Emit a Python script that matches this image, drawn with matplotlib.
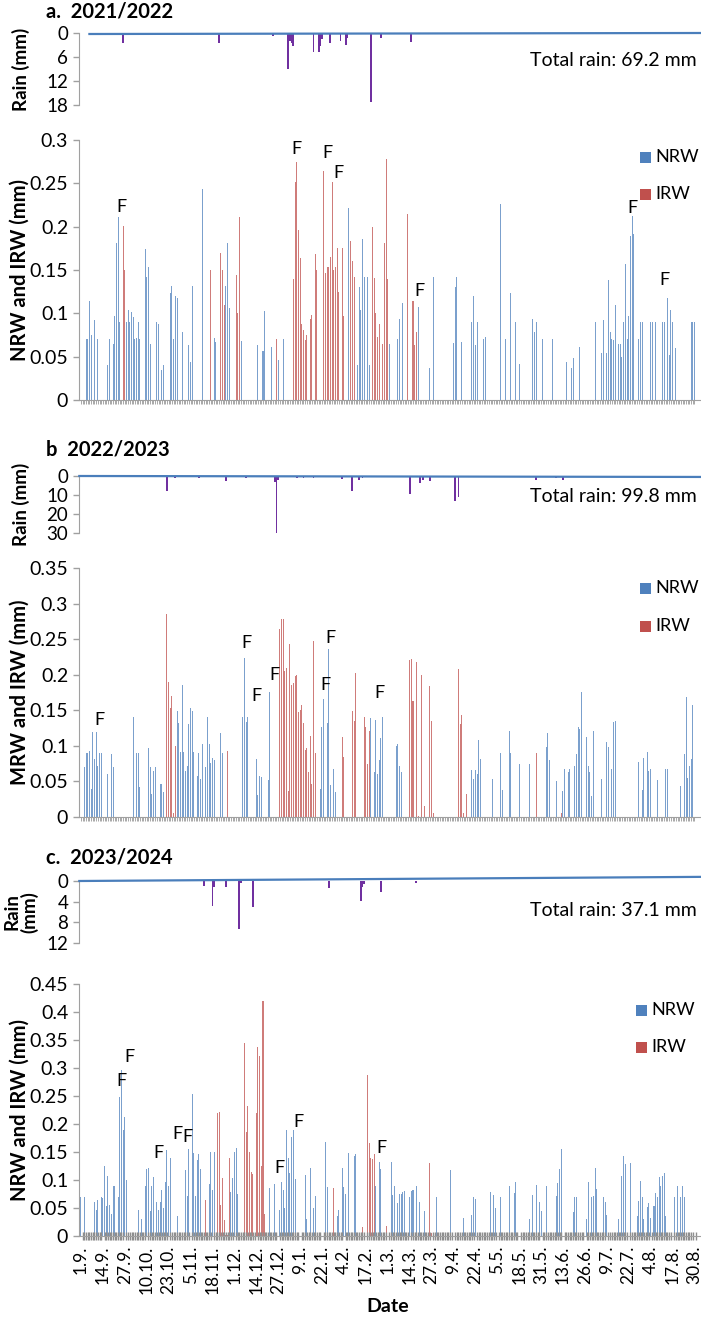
import numpy as np
import matplotlib
matplotlib.use("Agg")
import matplotlib.pyplot as plt
from matplotlib.patches import Rectangle

plt.rcParams["font.family"] = ["Lato", "DejaVu Sans"]

# ---------------- data (day index from 1 September) ----------------
# 2021/2022
nrw_days_a = [3, 4, 5, 6, 8, 10, 16, 17, 19, 20, 21, 22, 23, 27, 28, 29, 30, 31, 32, 33, 34, 35,
              38, 39, 40, 41, 45, 46, 48, 49, 53, 54, 55, 56, 57, 60, 64, 65, 66, 72, 79, 80, 86,
              87, 88, 95, 105, 108, 109, 113, 117, 120, 159, 164, 165, 166, 167, 168, 170, 171,
              183, 188, 189, 191, 200, 207, 209, 221, 222, 223, 226, 232, 233, 234, 235, 239,
              240, 249, 252, 255, 258, 260, 268, 269, 270, 274, 280, 288, 291, 292, 296, 305,
              309, 310, 312, 313, 314, 315, 316, 317, 319, 320, 321, 322, 323, 324, 325, 326,
              327, 328, 331, 332, 333, 338, 339, 341, 345, 346, 348, 349, 350, 351, 353, 362,
              363, 364]
nrw_vals_a = [0.07, 0.07, 0.114, 0.075, 0.092, 0.07, 0.04, 0.07, 0.065, 0.097, 0.181, 0.211, 0.09,
              0.09, 0.104, 0.09, 0.101, 0.096, 0.07, 0.071, 0.09, 0.07, 0.174, 0.142, 0.153,
              0.065, 0.09, 0.088, 0.035, 0.04, 0.124, 0.132, 0.07, 0.12, 0.118, 0.079, 0.064,
              0.044, 0.132, 0.244, 0.071, 0.067, 0.131, 0.181, 0.106, 0.068, 0.064, 0.056, 0.103,
              0.061, 0.046, 0.07, 0.222, 0.04, 0.13, 0.104, 0.186, 0.142, 0.142, 0.04, 0.065,
              0.07, 0.093, 0.112, 0.107, 0.037, 0.142, 0.066, 0.13, 0.142, 0.067, 0.09, 0.12,
              0.063, 0.09, 0.07, 0.073, 0.226, 0.07, 0.123, 0.09, 0.042, 0.093, 0.078, 0.09,
              0.07, 0.07, 0.044, 0.037, 0.049, 0.061, 0.09, 0.054, 0.092, 0.054, 0.139, 0.078,
              0.07, 0.069, 0.11, 0.065, 0.065, 0.05, 0.09, 0.157, 0.07, 0.097, 0.189, 0.212,
              0.192, 0.07, 0.09, 0.09, 0.09, 0.09, 0.09, 0.09, 0.09, 0.118, 0.052, 0.104, 0.09,
              0.06, 0.09, 0.09, 0.09]
irw_days_a = [25, 26, 77, 83, 84, 85, 92, 93, 94, 116, 126, 127, 128, 129, 130, 131, 132, 133,
              134, 136, 137, 139, 140, 144, 145, 146, 147, 148, 149, 150, 151, 152, 153, 155,
              156, 160, 161, 162, 173, 174, 175, 176, 177, 179, 180, 181, 182, 194, 197, 198, 199]
irw_vals_a = [0.201, 0.15, 0.15, 0.17, 0.15, 0.11, 0.144, 0.1, 0.211, 0.07, 0.14, 0.251, 0.275,
              0.196, 0.164, 0.088, 0.081, 0.069, 0.075, 0.093, 0.098, 0.168, 0.15, 0.264, 0.147,
              0.153, 0.154, 0.165, 0.251, 0.15, 0.154, 0.175, 0.125, 0.175, 0.097, 0.184, 0.16,
              0.142, 0.2, 0.141, 0.1, 0.073, 0.088, 0.065, 0.181, 0.278, 0.14, 0.215, 0.114,
              0.063, 0.079]
rain_days_a = [25, 43, 44, 82, 114, 123, 124, 125, 126, 138, 141, 142, 143, 148, 154, 157, 158,
               172, 178, 193, 196]
rain_vals_a = [2.5, 0.3, 0.3, 2.5, 0.7, 9.0, 2.0, 2.5, 3.3, 4.8, 4.8, 3.3, 1.5, 2.5, 2.0, 3.0,
               1.3, 17.2, 1.3, 0.3, 2.3]
f_days_a = [24, 128, 146, 153, 201, 327, 346]
f_vals_a = [0.223, 0.29, 0.285, 0.262, 0.126, 0.221, 0.138]

# 2022/2023
nrw_days_b = [2, 3, 4, 5, 6, 7, 8, 9, 10, 11, 12, 16, 18, 19, 31, 33, 34, 35, 40, 41, 42, 43, 44,
              47, 48, 49, 57, 58, 59, 60, 61, 62, 63, 64, 65, 66, 67, 69, 70, 71, 72, 74, 75, 76,
              77, 78, 79, 83, 84, 96, 97, 98, 99, 104, 105, 106, 107, 111, 112, 142, 143, 144,
              146, 147, 148, 150, 151, 172, 174, 175, 176, 177, 178, 179, 187, 188, 189, 190,
              232, 233, 234, 235, 236, 237, 244, 249, 250, 254, 255, 260, 266, 276, 277, 278,
              282, 286, 287, 289, 290, 293, 294, 295, 296, 297, 300, 301, 302, 303, 304, 309,
              312, 313, 315, 316, 317, 331, 333, 334, 336, 337, 338, 342, 347, 348, 356, 358,
              359, 360, 361, 362, 363]
nrw_vals_b = [0.07, 0.09, 0.09, 0.093, 0.04, 0.12, 0.082, 0.119, 0.072, 0.09, 0.09, 0.06, 0.088,
              0.07, 0.14, 0.09, 0.09, 0.042, 0.097, 0.07, 0.032, 0.064, 0.07, 0.046, 0.046, 0.035,
              0.149, 0.132, 0.092, 0.186, 0.092, 0.064, 0.071, 0.131, 0.153, 0.149, 0.092, 0.057,
              0.09, 0.053, 0.103, 0.07, 0.14, 0.103, 0.076, 0.083, 0.08, 0.118, 0.09, 0.14, 0.224,
              0.133, 0.14, 0.081, 0.031, 0.057, 0.056, 0.052, 0.176, 0.039, 0.126, 0.166, 0.132,
              0.236, 0.045, 0.067, 0.035, 0.139, 0.063, 0.137, 0.06, 0.08, 0.111, 0.14, 0.1,
              0.102, 0.072, 0.063, 0.066, 0.054, 0.066, 0.06, 0.108, 0.082, 0.053, 0.09, 0.038,
              0.121, 0.09, 0.075, 0.075, 0.099, 0.118, 0.08, 0.05, 0.037, 0.068, 0.063, 0.068,
              0.071, 0.089, 0.127, 0.123, 0.176, 0.112, 0.072, 0.063, 0.029, 0.121, 0.053, 0.105,
              0.098, 0.068, 0.133, 0.135, 0.077, 0.038, 0.083, 0.092, 0.064, 0.068, 0.052, 0.068,
              0.068, 0.043, 0.088, 0.169, 0.055, 0.072, 0.082, 0.158]
irw_days_b = [51, 52, 53, 54, 55, 56, 87, 118, 119, 120, 121, 122, 123, 124, 125, 126, 127, 128,
              129, 130, 131, 132, 133, 134, 135, 136, 137, 138, 139, 155, 156, 161, 162, 163,
              168, 169, 170, 171, 195, 196, 197, 199, 200, 202, 204, 207, 208, 209, 224, 225,
              226, 227, 229, 270, 285]
irw_vals_b = [0.286, 0.19, 0.153, 0.17, 0.006, 0.1, 0.093, 0.264, 0.279, 0.279, 0.205, 0.21,
              0.037, 0.243, 0.185, 0.189, 0.198, 0.2, 0.147, 0.15, 0.157, 0.132, 0.094, 0.097,
              0.063, 0.114, 0.047, 0.248, 0.09, 0.113, 0.085, 0.149, 0.135, 0.203, 0.14, 0.127,
              0.075, 0.121, 0.22, 0.222, 0.163, 0.218, 0.002, 0.199, 0.016, 0.184, 0.135, 0.005,
              0.208, 0.131, 0.143, 0.005, 0.032, 0.09, 0.006]
rain_days_b = [51, 56, 70, 86, 98, 115, 116, 117, 128, 132, 138, 155, 161, 165, 167, 195, 201,
               203, 207, 222, 224, 270, 282, 286]
rain_vals_b = [7.8, 1.0, 1.0, 2.6, 1.0, 3.0, 30.0, 2.0, 1.0, 1.0, 1.0, 1.4, 7.8, 2.0, 1.0, 9.5,
               3.5, 2.3, 2.6, 13.0, 11.0, 2.0, 1.0, 2.0]
f_days_b = [11, 98, 104, 115, 145, 148, 177]
f_vals_b = [0.137, 0.245, 0.17, 0.2, 0.186, 0.252, 0.174]

# 2023/2024
nrw_days_c = [0, 2, 8, 9, 10, 12, 13, 14, 15, 16, 17, 18, 19, 20, 22, 23, 24, 25, 26, 27, 34, 36,
              38, 39, 40, 41, 42, 43, 45, 46, 47, 48, 49, 50, 51, 52, 53, 57, 62, 63, 64, 66, 67,
              68, 69, 70, 71, 76, 77, 78, 79, 89, 90, 91, 92, 93, 112, 115, 118, 119, 120, 121,
              122, 123, 124, 125, 126, 127, 133, 134, 136, 138, 139, 145, 146, 152, 153, 155,
              156, 157, 159, 162, 163, 175, 177, 178, 184, 185, 186, 188, 189, 190, 191, 192,
              195, 196, 197, 199, 201, 204, 211, 219, 227, 232, 233, 234, 243, 245, 246, 249,
              254, 257, 258, 266, 268, 270, 272, 273, 276, 282, 283, 284, 285, 292, 293, 294,
              300, 301, 303, 304, 305, 306, 310, 311, 312, 319, 321, 322, 323, 326, 330, 331,
              332, 333, 334, 336, 337, 338, 340, 341, 342, 343, 344, 345, 346, 347, 352, 354,
              356, 357, 358]
nrw_vals_c = [0.07, 0.07, 0.06, 0.046, 0.064, 0.07, 0.068, 0.125, 0.053, 0.107, 0.056, 0.039,
              0.09, 0.09, 0.07, 0.249, 0.296, 0.189, 0.212, 0.1, 0.047, 0.031, 0.09, 0.12, 0.122,
              0.044, 0.089, 0.106, 0.06, 0.047, 0.06, 0.082, 0.05, 0.097, 0.153, 0.09, 0.14,
              0.036, 0.118, 0.071, 0.155, 0.254, 0.149, 0.071, 0.136, 0.147, 0.119, 0.093, 0.15,
              0.082, 0.15, 0.079, 0.104, 0.15, 0.157, 0.075, 0.086, 0.092, 0.046, 0.096, 0.083,
              0.05, 0.189, 0.14, 0.113, 0.176, 0.189, 0.101, 0.109, 0.03, 0.121, 0.05, 0.071,
              0.167, 0.087, 0.035, 0.046, 0.121, 0.087, 0.075, 0.148, 0.142, 0.147, 0.09, 0.133,
              0.12, 0.133, 0.074, 0.09, 0.059, 0.075, 0.075, 0.079, 0.081, 0.069, 0.081, 0.082,
              0.09, 0.061, 0.045, 0.069, 0.118, 0.033, 0.037, 0.07, 0.066, 0.078, 0.074, 0.05,
              0.069, 0.09, 0.077, 0.097, 0.031, 0.073, 0.091, 0.06, 0.044, 0.09, 0.072, 0.094,
              0.119, 0.155, 0.042, 0.07, 0.07, 0.031, 0.097, 0.069, 0.072, 0.121, 0.084, 0.069,
              0.06, 0.038, 0.031, 0.108, 0.143, 0.128, 0.13, 0.035, 0.063, 0.099, 0.07, 0.031,
              0.052, 0.059, 0.032, 0.054, 0.077, 0.069, 0.106, 0.09, 0.108, 0.113, 0.035, 0.069,
              0.09, 0.069, 0.09, 0.069]
irw_days_c = [74, 81, 82, 83, 84, 85, 86, 87, 88, 97, 98, 99, 100, 101, 102, 104, 105, 106, 107,
              108, 109, 111, 150, 167, 170, 171, 172, 173, 174, 181, 207, 208]
irw_vals_c = [0.064, 0.22, 0.222, 0.056, 0.104, 0.028, 0.002, 0.002, 0.14, 0.344, 0.186, 0.232,
              0.15, 0.115, 0.11, 0.22, 0.338, 0.322, 0.125, 0.42, 0.04, 0.005, 0.085, 0.016,
              0.288, 0.166, 0.139, 0.137, 0.146, 0.018, 0.13, 0.005]
rain_days_c = [73, 78, 79, 86, 94, 95, 102, 147, 166, 167, 168, 178, 199]
rain_vals_c = [1.0, 4.85, 1.1, 1.1, 9.2, 0.3, 5.0, 1.3, 3.8, 1.1, 0.6, 2.2, 0.3]
f_days_c = [24, 29, 46, 57, 63, 118, 129, 178]
f_vals_c = [0.276, 0.32, 0.148, 0.183, 0.177, 0.121, 0.204, 0.157]

date_labels = ["1.9.", "14.9.", "27.9.", "10.10.", "23.10.", "5.11.", "18.11.", "1.12.",
               "14.12.", "27.12.", "9.1.", "22.1.", "4.2.", "17.2.", "1.3.", "14.3.", "27.3.",
               "9.4.", "22.4.", "5.5.", "18.5.", "31.5.", "13.6.", "26.6.", "9.7.", "22.7.",
               "4.8.", "17.8.", "30.8."]

# zero line drawn across each rain panel (start/end)
rain_line_days = [[5, 368], [-1, 368], [-1, 368]]
rain_line_vals = [[0.25, 0.0], [0.0, 0.5], [0.0, -0.8]]

# ---------------- styling ----------------
NRW_COLOR = "#4F81BD"
IRW_COLOR = "#C0504D"
RAIN_COLOR = "#7030A0"
LINE_COLOR = "#4A7EBB"
GRAY = "#A0A0A0"

W, H = 701, 1320
XMIN, XMAX = -1, 367
AX_L, AX_R = 79.3, 699.5

fig = plt.figure(figsize=(W / 100, H / 100), dpi=100)


def add_ax(top, bottom):
    return fig.add_axes([AX_L / W, 1 - bottom / H, (AX_R - AX_L) / W, (bottom - top) / H])


def ftext(x, y, s, **kw):
    return fig.text(x / W, 1 - y / H, s, **kw)


panels = [
    dict(title="a.  2021/2022", title_y=12, rain=(33, 105), main=(140, 400),
         rmax=18, rstep=6, ymax=0.3, total="Total rain: 69.2 mm", total_y=60,
         ylabel="NRW and IRW (mm)", rlabel="Rain (mm)", leg=(640, 157, 194),
         nrw=(nrw_days_a, nrw_vals_a), irw=(irw_days_a, irw_vals_a),
         rain_data=(rain_days_a, rain_vals_a), f=(f_days_a, f_vals_a)),
    dict(title="b  2022/2023", title_y=450, rain=(476, 533), main=(568, 817),
         rmax=30, rstep=10, ymax=0.35, total="Total rain: 99.8 mm", total_y=496,
         ylabel="MRW and IRW (mm)", rlabel="Rain (mm)", leg=(640, 588, 626),
         nrw=(nrw_days_b, nrw_vals_b), irw=(irw_days_b, irw_vals_b),
         rain_data=(rain_days_b, rain_vals_b), f=(f_days_b, f_vals_b)),
    dict(title="c.  2023/2024", title_y=858, rain=(881, 943), main=(984, 1236),
         rmax=12, rstep=4, ymax=0.45, total="Total rain: 37.1 mm", total_y=910,
         ylabel="NRW and IRW (mm)", rlabel="Rain\n(mm)", leg=(636, 1010, 1047),
         nrw=(nrw_days_c, nrw_vals_c), irw=(irw_days_c, irw_vals_c),
         rain_data=(rain_days_c, rain_vals_c), f=(f_days_c, f_vals_c)),
]

for i, p in enumerate(panels):
    last = i == len(panels) - 1

    # title
    ftext(46, p["title_y"], p["title"], fontsize=14.5, fontweight="bold", ha="left", va="center")

    # rain panel
    ar = add_ax(*p["rain"])
    ar.bar(p["rain_data"][0], p["rain_data"][1], width=1.1, color=RAIN_COLOR, linewidth=0)
    ar.plot(rain_line_days[i], rain_line_vals[i], color=LINE_COLOR, lw=1.6,
            clip_on=False, zorder=3)
    ar.set_xlim(XMIN, XMAX)
    ar.set_ylim(p["rmax"], 0)
    ar.set_yticks(np.arange(0, p["rmax"] + 1, p["rstep"]))
    ar.set_xticks([])
    for s in ["top", "right", "bottom"]:
        ar.spines[s].set_visible(False)
    ar.spines["left"].set_color(GRAY)
    ar.tick_params(axis="y", colors=GRAY, labelcolor="black", labelsize=13.5,
                   length=4, width=1, pad=4)
    ar.patch.set_alpha(0)
    rt, rb = p["rain"]
    ftext(21, (rt + rb) / 2, p["rlabel"], fontsize=13.5, fontweight="bold",
          rotation=90, ha="center", va="center", linespacing=1.0)
    ftext(697, p["total_y"], p["total"], fontsize=14, ha="right", va="center")

    # main panel
    am = add_ax(*p["main"])
    am.bar(p["nrw"][0], p["nrw"][1], width=0.6, color=NRW_COLOR, alpha=0.75, linewidth=0)
    am.bar(p["irw"][0], p["irw"][1], width=0.6, color=IRW_COLOR, alpha=0.75, linewidth=0)
    for d, v in zip(*p["f"]):
        am.text(d, v, "F", fontsize=13, ha="center", va="center")
    am.set_xlim(XMIN, XMAX)
    am.set_ylim(0, p["ymax"])
    yt = np.arange(0, p["ymax"] + 1e-9, 0.05)
    am.set_yticks(yt)
    am.set_yticklabels([f"{t:g}" for t in yt])
    for s in ["top", "right"]:
        am.spines[s].set_visible(False)
    am.spines["left"].set_color(GRAY)
    am.spines["bottom"].set_color(GRAY)
    am.tick_params(axis="y", colors=GRAY, labelcolor="black", labelsize=14,
                   length=4, width=1, pad=4)
    ndays = 366 if last else 365
    am.set_xticks(np.arange(ndays), minor=True)
    if last:
        am.set_xticks(np.arange(len(date_labels)) * 13)
        am.set_xticklabels(date_labels, rotation=90, fontsize=12.5)
        am.tick_params(axis="x", which="major", length=0, pad=7, labelcolor="black")
        am.tick_params(axis="x", which="minor", direction="inout", length=6, width=1,
                       color="#8E8E8E")
    else:
        am.set_xticks([])
        am.tick_params(axis="x", which="minor", direction="out", length=3, width=0.6,
                       color="#9A9A9A")
    mt, mb = p["main"]
    ftext(20, (mt + mb) / 2, p["ylabel"], fontsize=14.5, fontweight="bold",
          rotation=90, ha="center", va="center")

    # legend
    lx, y1, y2 = p["leg"]
    for yy, lab, col in [(y1, "NRW", NRW_COLOR), (y2, "IRW", IRW_COLOR)]:
        fig.patches.append(Rectangle((lx / W, 1 - (yy + 5.5) / H), 11 / W, 11 / H,
                                     transform=fig.transFigure, facecolor=col,
                                     edgecolor="none"))
        ftext(lx + 15, yy, lab, fontsize=13, ha="left", va="center")

ftext(388, 1307, "Date", fontsize=14, fontweight="bold", ha="center", va="center")

fig.savefig("out.png", dpi=100)
plt.close(fig)
